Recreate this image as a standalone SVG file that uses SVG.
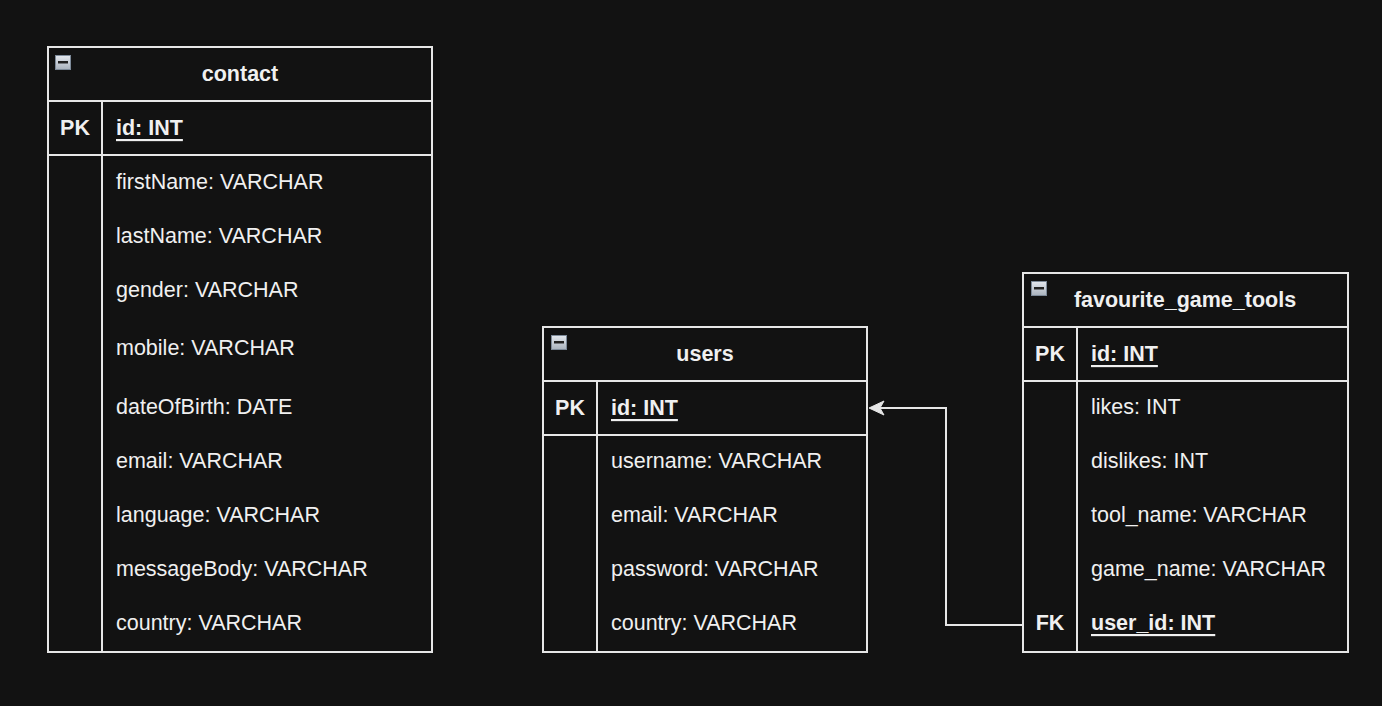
<svg xmlns="http://www.w3.org/2000/svg" width="1382" height="706" viewBox="0 0 1382 706">
<defs>
<style>
.box{fill:#121212;stroke:#e6e6e6;stroke-width:2}
.ln{stroke:#e6e6e6;stroke-width:2;fill:none}
.t{font-family:"Liberation Sans",Arial,sans-serif;font-size:21.5px;fill:#f0f0f0;dominant-baseline:central}
.b{font-weight:bold}
.c{text-anchor:middle}
.u{text-decoration:underline}
.ic{fill:url(#g);stroke:#7d8a99;stroke-width:1}
.mi{fill:#222}
.ah{fill:#e6e6e6;stroke:#e6e6e6;stroke-width:1}
</style>
<linearGradient id="g" x1="0" y1="0" x2="0" y2="1"><stop offset="0" stop-color="#e4e8ee"/><stop offset="1" stop-color="#a9b2bd"/></linearGradient>
</defs>
<rect width="1382" height="706" fill="#121212"/>
<g id="contact">
<rect class="box" x="48" y="47" width="384" height="605"/>
<path class="ln" d="M48 101H432M48 155H432M102 101V652"/>
<rect class="ic" x="55.5" y="55.5" width="15" height="14"/><rect class="mi" x="58" y="61" width="10" height="2.5"/>
<text class="t b c" x="240" y="74">contact</text>
<text class="t b c" x="75" y="128">PK</text>
<text class="t b u" x="116" y="128">id: INT</text>
<text class="t" x="116" y="182">firstName: VARCHAR</text>
<text class="t" x="116" y="236">lastName: VARCHAR</text>
<text class="t" x="116" y="290">gender: VARCHAR</text>
<text class="t" x="116" y="348">mobile: VARCHAR</text>
<text class="t" x="116" y="407">dateOfBirth: DATE</text>
<text class="t" x="116" y="461">email: VARCHAR</text>
<text class="t" x="116" y="515">language: VARCHAR</text>
<text class="t" x="116" y="569">messageBody: VARCHAR</text>
<text class="t" x="116" y="623">country: VARCHAR</text>
</g>
<g id="users">
<rect class="box" x="543" y="327" width="324" height="325"/>
<path class="ln" d="M543 381H867M543 435H867M597 381V652"/>
<rect class="ic" x="551.5" y="335.5" width="15" height="14"/><rect class="mi" x="554" y="341" width="10" height="2.5"/>
<text class="t b c" x="705" y="354">users</text>
<text class="t b c" x="570" y="408">PK</text>
<text class="t b u" x="611" y="408">id: INT</text>
<text class="t" x="611" y="461">username: VARCHAR</text>
<text class="t" x="611" y="515">email: VARCHAR</text>
<text class="t" x="611" y="569">password: VARCHAR</text>
<text class="t" x="611" y="623">country: VARCHAR</text>
</g>
<g id="favourite_game_tools">
<rect class="box" x="1023" y="273" width="325" height="379"/>
<path class="ln" d="M1023 327H1348M1023 381H1348M1077 327V652"/>
<rect class="ic" x="1031.5" y="281.5" width="15" height="14"/><rect class="mi" x="1034" y="287" width="10" height="2.5"/>
<text class="t b c" x="1185" y="300">favourite_game_tools</text>
<text class="t b c" x="1050" y="354">PK</text>
<text class="t b u" x="1091" y="354">id: INT</text>
<text class="t" x="1091" y="407">likes: INT</text>
<text class="t" x="1091" y="461">dislikes: INT</text>
<text class="t" x="1091" y="515">tool_name: VARCHAR</text>
<text class="t" x="1091" y="569">game_name: VARCHAR</text>
<text class="t b c" x="1050" y="623">FK</text>
<text class="t b u" x="1091" y="623">user_id: INT</text>
</g>
<g id="connectors">
<path class="ln" d="M1023 625H946V408H880"/>
<path class="ah" d="M869 408L884 401L880 408L884 415Z"/>
</g>
</svg>
